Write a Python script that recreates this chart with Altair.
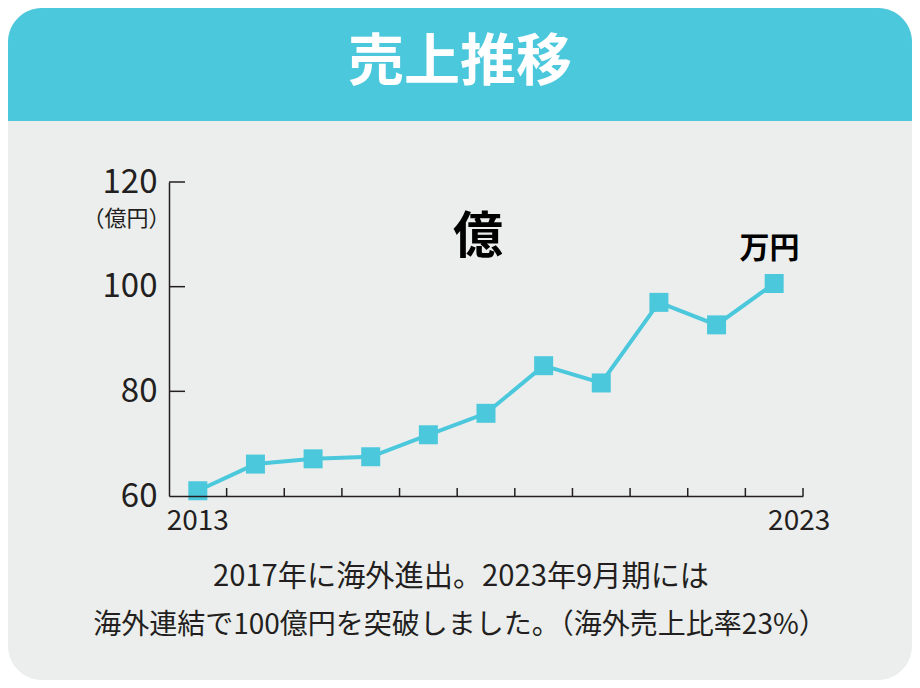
import altair as alt
import pandas as pd

# ---- data ----
years = [2013, 2014, 2015, 2016, 2017, 2018, 2019, 2020, 2021, 2022, 2023]
sales = [61.0, 66.1, 67.1, 67.5, 71.7, 75.8, 84.9, 81.6, 97.0, 92.7, 100.6]
y_ticks = [60, 80, 100, 120]
y_inner_ticks = [80, 100, 120]
x_tick_bounds = [2013.5, 2014.5, 2015.5, 2016.5, 2017.5, 2018.5, 2019.5,
                 2020.5, 2021.5, 2022.5, 2023.5]
first_label = ["2013"]
first_label_year = [2013]
last_label = ["2023"]
last_label_year = [2023]
title_text = "売上推移"
unit_text = "（億円）"
oku_text = ["億"]
oku_pos = [(2017.86, 109.3)]
man_text = ["万円"]
man_pos = [(2022.92, 107.2)]
footer_lines = ["2017年に海外進出。2023年9月期には",
                "海外連結で100億円を突破しました。（海外売上比率23%）"]

FONT = "Noto Sans CJK JP"
TEAL = "#4CC8DC"
CARD = "#ECEEED"
INK = "#231F20"

W, H = 634, 314
PL, PT, PR, PB = 161, 174, 109, 184

xscale = alt.Scale(domain=[2012.5, 2023.5], nice=False, zero=False)
yscale = alt.Scale(domain=[60, 120], nice=False, zero=False)

df = pd.DataFrame({"year": years, "sales": sales})
one = pd.DataFrame({"k": [0]})

card = alt.Chart(one).mark_rect(color=CARD, cornerRadius=34).encode(
    x=alt.value(-PL), x2=alt.value(W + PR), y=alt.value(-PT), y2=alt.value(H + PB)
)
header = alt.Chart(one).mark_rect(
    color=TEAL, cornerRadiusTopLeft=34, cornerRadiusTopRight=34
).encode(
    x=alt.value(-PL), x2=alt.value(W + PR), y=alt.value(-PT), y2=alt.value(-61)
)
title = alt.Chart(one).mark_text(
    text=title_text, font=FONT, fontSize=56, fontWeight="bold", color="white",
    align="center", baseline="middle"
).encode(x=alt.value(291), y=alt.value(-119))

x_axis = alt.Axis(title=None, labels=False, ticks=False, grid=False,
                  domainColor=INK, domainWidth=1.5, zindex=2)
y_axis = alt.Axis(values=y_ticks, title=unit_text, titleAngle=0, titleX=-43, titleY=36,
                  titleAlign="center", titleBaseline="middle", titleFontSize=22,
                  titleFontWeight="normal", titleFont=FONT, titleColor=INK,
                  labelFont=FONT, labelFontSize=33, labelColor=INK, labelPadding=12,
                  labelFlush=False, labelOverlap=False, zindex=2,
                  ticks=False, tickSize=0, grid=False, domainColor=INK, domainWidth=1.5)

line = alt.Chart(df).mark_line(color=TEAL, strokeWidth=4).encode(
    x=alt.X("year:Q", scale=xscale, axis=x_axis),
    y=alt.Y("sales:Q", scale=yscale, axis=y_axis),
)
points = alt.Chart(df).mark_square(size=361, color=TEAL, opacity=1, filled=True).encode(
    x=alt.X("year:Q", scale=xscale),
    y=alt.Y("sales:Q", scale=yscale),
)

ytick_df = pd.DataFrame({"v": y_inner_ticks})
yticks = alt.Chart(ytick_df).mark_rule(color=INK, strokeWidth=1.5).encode(
    y=alt.Y("v:Q", scale=yscale), x=alt.value(0), x2=alt.value(16)
)
xtick_df = pd.DataFrame({"v": x_tick_bounds})
xticks = alt.Chart(xtick_df).mark_rule(color=INK, strokeWidth=1.5).encode(
    x=alt.X("v:Q", scale=xscale), y=alt.value(H - 8), y2=alt.value(H)
)

lab1 = alt.Chart(pd.DataFrame({"year": first_label_year, "t": first_label})).mark_text(
    font=FONT, fontSize=28, color=INK, align="center", baseline="middle", dy=26
).encode(x=alt.X("year:Q", scale=xscale), y=alt.value(H), text="t:N")
lab2 = alt.Chart(pd.DataFrame({"year": last_label_year, "t": last_label})).mark_text(
    font=FONT, fontSize=28, color=INK, align="center", baseline="middle", dy=26, dx=25
).encode(x=alt.X("year:Q", scale=xscale), y=alt.value(H), text="t:N")

oku = alt.Chart(pd.DataFrame({"x": [p[0] for p in oku_pos], "y": [p[1] for p in oku_pos],
                              "t": oku_text})).mark_text(
    font=FONT, fontSize=50, fontWeight="bold", color="black", align="center", baseline="middle"
).encode(x=alt.X("x:Q", scale=xscale), y=alt.Y("y:Q", scale=yscale), text="t:N")
man = alt.Chart(pd.DataFrame({"x": [p[0] for p in man_pos], "y": [p[1] for p in man_pos],
                              "t": man_text})).mark_text(
    font=FONT, fontSize=30, fontWeight="bold", color="black", align="center", baseline="middle"
).encode(x=alt.X("x:Q", scale=xscale), y=alt.Y("y:Q", scale=yscale), text="t:N")

foot1 = alt.Chart(one).mark_text(
    text=footer_lines[0], font=FONT, fontSize=29.2, color=INK, align="center", baseline="middle"
).encode(x=alt.value(292), y=alt.value(395))
foot2 = alt.Chart(one).mark_text(
    text=footer_lines[1], font=FONT, fontSize=28, color=INK, align="center", baseline="middle"
).encode(x=alt.value(291), y=alt.value(444))

chart = alt.layer(
    card, header, title, line, points, yticks, xticks, lab1, lab2, oku, man, foot1, foot2
).properties(
    width=W, height=H,
    autosize=alt.AutoSizeParams(type="none"),
    padding={"left": PL, "top": PT, "right": PR, "bottom": PB},
    background="white",
).configure_view(stroke=None)

chart.save("out.html", embed_options={"renderer": "svg", "actions": False})
